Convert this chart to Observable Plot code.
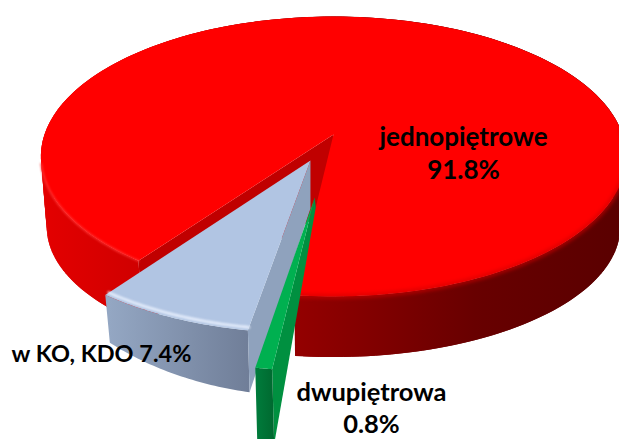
<!DOCTYPE html>
<html>
<head>
<meta charset="utf-8">
<script src="https://cdn.jsdelivr.net/npm/d3@7"></script>
<script src="https://cdn.jsdelivr.net/npm/@observablehq/plot@0.6"></script>
<style>
html,body{margin:0;padding:0;background:#fff;overflow:hidden}
.soft{filter:blur(1.2px)}
.softer{filter:blur(2px)}
</style>
</head>
<body>
<div id="chart"></div>
<script>
// Data
const categories = ["jednopiętrowe", "dwupiętrowa", "w KO, KDO"];
const shares = [91.8, 0.8, 7.4];
const labelTexts = ["jednopiętrowe\n91.8%", "dwupiętrowa\n0.8%", "w KO, KDO 7.4%"];

// Layout of the tilted pie
const W = 619, H = 439;
const startAngle = 216.1;
const cx = 333, cy = 134, A = 136.5, B = 289, k = 0.157;
const rad = d => d * Math.PI / 180;
const total = d3.sum(shares);
let acc = startAngle;
const slices = categories.map((name, i) => {
  const a0 = acc, a1 = acc + shares[i] / total * 360;
  acc = a1;
  return {name, value: shares[i], a0, a1, mid: (a0 + a1) / 2};
});
const explode = [0, 0.434, 0.2];
const project = (X, Y) => {
  const w = 1 - k * Y;
  return {x: cx + B * X / w, y: cy + A * Y / w};
};
const pt = (i, angle, r) => {
  const s = slices[i], e = explode[i];
  const X = e * Math.sin(rad(s.mid)) + r * Math.sin(rad(angle));
  const Y = -(e * Math.cos(rad(s.mid)) + r * Math.cos(rad(angle)));
  return project(X, Y);
};
const arc = (i, r, n = 90) => d3.range(n + 1).map(t => pt(i, slices[i].a0 + (slices[i].a1 - slices[i].a0) * t / n, r));
const arcPart = (i, from, to, r, n = 40) => d3.range(n + 1).map(t => pt(i, from + (to - from) * t / n, r));
const sink = (p, sx, y0, sy) => ({x: cx + sx * (p.x - cx), y: y0 + sy * (p.y - cy)});

const poly = (pts, fill, extra = {}) =>
  Plot.line(pts, {x: "x", y: "y", fill, stroke: "none", curve: "linear-closed", ...extra});

// Side wall as overlapping quads, so the outline follows the tangent between rims
const wallQuads = (rim, down) => rim.slice(0, -2).flatMap((p, j) => {
  const q = rim[j + 2];
  return [p, q, down(q), down(p)].map(v => ({...v, q: j}));
});

// Red slice
const redDown = p => sink(p, 0.98, 206, 0.93);
const redArc = arc(0, 1, 240);
const redApex = pt(0, 0, 0);
const redWall = wallQuads(redArc, redDown);
const redFace = [redApex, pt(0, slices[0].a0, 1), redDown(pt(0, slices[0].a0, 1)), redDown(redApex)];
const redTop = [redApex, ...redArc];

// Blue slice
const blueDown = p => sink(p, 0.98, 117.6, 1.4);
const blueApex = pt(2, 0, 0);
const blueOuter = arc(2, 1, 40);
const blueInner = arc(2, 0.985, 40);
const blueWall = [...blueOuter, ...blueOuter.map(blueDown).reverse()];
const blueFace = [blueApex, {x: blueApex.x, y: blueApex.y + 48}, blueDown(pt(2, slices[2].a0, 1)), pt(2, slices[2].a0, 1)];
const blueTop = [blueApex, ...blueOuter];

// Green slice
const greenDown = p => ({x: p.x + 2, y: p.y + 75});
const greenApex = pt(1, 0, 0);
const greenArc = arc(1, 0.93, 10);
const greenEnd = pt(1, slices[1].a0, 0.93);
const greenWall = [...greenArc, ...greenArc.map(greenDown).reverse()];
const greenFace = [greenApex, {x: greenApex.x + 1, y: greenApex.y + 10}, greenDown(greenEnd), greenEnd];
const greenTop = [greenApex, ...greenArc];

// Gradients
const gradient = (id, x1, x2, stops) => () => {
  const g = d3.create("svg:linearGradient").attr("id", id)
    .attr("gradientUnits", "userSpaceOnUse")
    .attr("x1", x1).attr("x2", x2).attr("y1", 0).attr("y2", 0);
  stops.forEach(([o, c]) => g.append("stop").attr("offset", o).attr("stop-color", c));
  return d3.create("svg:defs").call(s => s.node().append(g.node())).node();
};

const labelPlace = [
  {x: 463, y: 151, size: 26},
  {x: 371, y: 406, size: 25.5},
  {x: 101, y: 352, size: 23.5}
];
const labelData = labelTexts.map((text, i) => ({text, ...labelPlace[i]}));

const chart = Plot.plot({
  width: W, height: H,
  margin: 0,
  style: {background: "#fff", overflow: "hidden"},
  x: {domain: [0, W], range: [0, W], axis: null},
  y: {domain: [0, H], range: [0, H], axis: null},
  marks: [
    gradient("redWallG", 40, 619, [[0, "#e40000"], [0.18, "#cf0000"], [0.44, "#940000"], [0.75, "#680000"], [1, "#5a0000"]]),
    gradient("blueWallG", 108, 252, [[0, "#94a7c3"], [1, "#6f7d97"]]),
    gradient("greenWallG", 255, 274, [[0, "#007c3c"], [1, "#00682f"]]),
    Plot.line(redWall, {x: "x", y: "y", z: "q", fill: "url(#redWallG)", stroke: "none", curve: "linear-closed"}),
    poly(redFace, "#c00000"),
    poly(redTop, "#ff0000"),
    Plot.line(arcPart(0, slices[0].a0, 258, 1), {x: "x", y: "y", stroke: "#ff3a3a", strokeWidth: 1.6, className: "soft"}),
    Plot.line(arcPart(0, 88, slices[0].a1 - 360, 1), {x: "x", y: "y", stroke: "#d00000", strokeWidth: 3, className: "softer"}),
    poly(blueWall, "url(#blueWallG)"),
    poly(blueFace, "#8fa2bd"),
    poly(blueTop, "#b1c5e3"),
    Plot.line(blueInner, {x: "x", y: "y", stroke: "#e6eefc", strokeWidth: 2.6, className: "soft"}),
    poly(greenFace, "#009040"),
    poly(greenWall, "url(#greenWallG)"),
    poly(greenTop, "#00b050"),
    Plot.text(labelData, {
      x: "x", y: "y", text: "text", fontSize: "size",
      fontFamily: "Lato", fontWeight: 700, lineHeight: 1.27,
      fill: "#000", textAnchor: "middle", stroke: "none"
    })
  ]
});
document.getElementById("chart").append(chart);
</script>
</body>
</html>
